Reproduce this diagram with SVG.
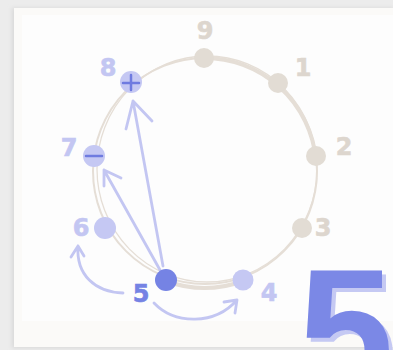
<svg xmlns="http://www.w3.org/2000/svg" width="393" height="350" viewBox="0 0 393 350">
<defs>
<style>
.ring{fill:none;stroke:#e5ded6;stroke-linecap:round}
.gnode{fill:#e2dcd4}
.bnode{fill:#c5c8f3}
.lbl{font-family:"DejaVu Sans",sans-serif;font-weight:bold;font-size:24px;text-anchor:middle;stroke-width:0.6}
.glabel{fill:#ddd6ce;stroke:#ddd6ce}
.blabel{fill:#c3c6f2;stroke:#c3c6f2}
.arrow{fill:none;stroke:#c3c6f2;stroke-width:2.8;stroke-linecap:round;stroke-linejoin:round}
.sign{stroke:#6f7be0;stroke-width:2.5;stroke-linecap:round}
.big{font-family:"Liberation Sans",sans-serif;font-weight:bold;font-size:172px}
</style>
<filter id="sh" x="-10%" y="-10%" width="120%" height="120%"><feGaussianBlur stdDeviation="2"/></filter>
</defs>
<rect width="393" height="350" fill="#ececec"/>
<rect x="12" y="8" width="381" height="340" fill="#d8d8d8" filter="url(#sh)"/>
<rect x="14" y="8" width="379" height="339" fill="#fbfaf8"/>
<rect x="22" y="15" width="371" height="306" fill="#fdfdfd"/>

<g id="ring">
<ellipse class="ring" cx="205" cy="171" rx="112" ry="113" stroke-width="2"/>
<ellipse class="ring" cx="207" cy="169" rx="110" ry="113" stroke-width="1.3"/>
<path class="ring" d="M204 58 A112 113 0 0 1 316 160" stroke-width="4"/>
<path class="ring" d="M166 281 A112 113 0 0 0 243 281" stroke-width="4"/>
</g>

<g id="big5">
<text class="big" x="302" y="393" fill="#c5c9f3">5</text>
<text class="big" x="298" y="389" fill="#7b88e6">5</text>
</g>

<g id="connectors">
<path class="arrow" d="M163 266 L133 101 M126 129 L133 101 L152 121"/>
<path class="arrow" d="M160 270 L104 170 M104 186 L104 170 L121 178"/>
<path class="arrow" d="M123 293 C95 292 76 275 78 246 M71 257 L78 246 L84 256"/>
<path class="arrow" d="M154 303 C175 325 215 325 237 300 M224 302 L237 300 L235 313"/>
</g>

<g id="n9"><circle class="gnode" cx="204" cy="58" r="10"/><text class="lbl glabel" x="205" y="39">9</text></g>
<g id="n1"><circle class="gnode" cx="278" cy="83" r="10"/><text class="lbl glabel" x="303" y="76">1</text></g>
<g id="n2"><circle class="gnode" cx="316" cy="156" r="10"/><text class="lbl glabel" x="344" y="155">2</text></g>
<g id="n3"><circle class="gnode" cx="302" cy="228" r="10"/><text class="lbl glabel" x="323" y="236">3</text></g>
<g id="n4"><circle class="bnode" cx="243" cy="280" r="10.5"/><text class="lbl blabel" x="269" y="301">4</text></g>
<g id="n5"><circle cx="166" cy="280" r="11" fill="#7583e4"/><text class="lbl" x="141" y="302" style="fill:#7583e4;stroke:#7583e4">5</text></g>
<g id="n6"><circle class="bnode" cx="105" cy="228" r="11"/><text class="lbl blabel" x="81" y="236">6</text></g>
<g id="n7"><circle class="bnode" cx="94" cy="156" r="11"/><line class="sign" x1="86" y1="156" x2="102" y2="156"/><text class="lbl blabel" x="69" y="156">7</text></g>
<g id="n8"><circle class="bnode" cx="131" cy="82" r="11"/><line class="sign" x1="123" y1="83" x2="139" y2="83"/><line class="sign" x1="131" y1="75" x2="131" y2="90"/><text class="lbl blabel" x="108" y="76">8</text></g>
</svg>
